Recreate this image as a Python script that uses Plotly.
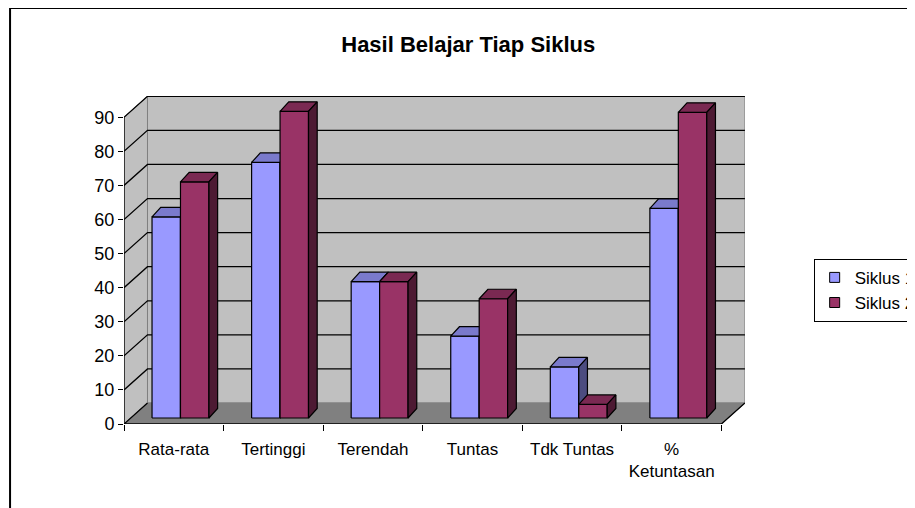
import plotly.graph_objects as go

# ---- data ----
categories = ["Rata-rata", "Tertinggi", "Terendah", "Tuntas", "Tdk Tuntas", "%<br>Ketuntasan"]
siklus1 = [59, 75, 40, 24, 15, 61.5]
siklus2 = [69.3, 90, 40, 35, 4, 89.7]
series_names = ["Siklus 1", "Siklus 2"]
y_ticks = [0, 10, 20, 30, 40, 50, 60, 70, 80, 90]
title_text = "Hasil Belajar Tiap Siklus"

# ---- styling / geometry (page body margin of 8px compensated) ----
OFF = 8
FONT = "Liberation Sans, Arial, sans-serif"
W, H = 915 - OFF, 508 - OFF
ML = 124 - OFF
MT = 96 - OFF
MR = W - (745.3 - OFF)
MB = H - (424.3 - OFF)
PW = W - ML - MR
PH = H - MT - MB
CAT_PX = (721.7 - 124) / 6.0
VAL_PX = (424.3 - 117.3) / 90.0
XMAX = PW / CAT_PX
YMAX = PH / VAL_PX
YTOP = y_ticks[-1]
NC = len(categories)

DX = 23.5 / CAT_PX   # wall depth
DY = 21.0 / VAL_PX
OX = 6.7 / CAT_PX    # bar front plane offset
OY = 6.0 / VAL_PX
BDX = 8.7 / CAT_PX   # bar depth
BDY = 9.5 / VAL_PX
BW = 1 / 3.5          # gap width 150%
HG = 0.75 / 3.5

front_cols = ["#9999FF", "#993366"]
top_cols = ["#7A7ACC", "#7A2952"]
side_cols = ["#4C4C80", "#4D1A33"]


def add_poly(xs, ys, pts):
    for px, py in pts + [pts[0]]:
        xs.append(px)
        ys.append(py)
    xs.append(None)
    ys.append(None)


fig = go.Figure()

# walls and floor
wx, wy = [], []
add_poly(wx, wy, [(DX, DY), (NC + DX, DY), (NC + DX, YTOP + DY), (DX, YTOP + DY)])
add_poly(wx, wy, [(0, 0), (DX, DY), (DX, YTOP + DY), (0, YTOP)])
fig.add_trace(go.Scatter(x=wx, y=wy, mode="lines", fill="toself", fillcolor="#C0C0C0",
                         line=dict(color="#808080", width=1), showlegend=False, hoverinfo="skip"))
fx, fy = [], []
add_poly(fx, fy, [(0, 0), (NC, 0), (NC + DX, DY), (DX, DY)])
fig.add_trace(go.Scatter(x=fx, y=fy, mode="lines", fill="toself", fillcolor="#808080",
                         line=dict(color="#808080", width=1), showlegend=False, hoverinfo="skip"))

# gridlines (side wall diagonals + back wall)
gx, gy = [], []
for v in y_ticks[1:]:
    gx += [0, DX, NC + DX, None]
    gy += [v, v + DY, v + DY, None]
gx += [0, DX, None]
gy += [0, DY, None]
fig.add_trace(go.Scatter(x=gx, y=gy, mode="lines", line=dict(color="black", width=1.3),
                         showlegend=False, hoverinfo="skip"))

# bars
series = [siklus1, siklus2]
for s, vals in enumerate(series):
    frx, fry, tpx, tpy, sdx, sdy = [], [], [], [], [], []
    for i, v in enumerate(vals):
        x0 = i + HG + s * BW + OX
        x1 = x0 + BW
        y0 = OY
        y1 = v + OY
        add_poly(frx, fry, [(x0, y0), (x1, y0), (x1, y1), (x0, y1)])
        add_poly(tpx, tpy, [(x0, y1), (x1, y1), (x1 + BDX, y1 + BDY), (x0 + BDX, y1 + BDY)])
        add_poly(sdx, sdy, [(x1, y0), (x1 + BDX, y0 + BDY), (x1 + BDX, y1 + BDY), (x1, y1)])
    for xs, ys, col in [(frx, fry, front_cols[s]), (tpx, tpy, top_cols[s]), (sdx, sdy, side_cols[s])]:
        fig.add_trace(go.Scatter(x=xs, y=ys, mode="lines", fill="toself", fillcolor=col,
                                 line=dict(color="black", width=1.2), showlegend=False,
                                 hoverinfo="skip"))

# front axis lines
fig.add_trace(go.Scatter(x=[0, 0, None, 0, NC, NC + DX], y=[YTOP, 0, None, 0, 0, DY], mode="lines",
                         line=dict(color="black", width=1.3), showlegend=False, hoverinfo="skip"))

# legend entries
for s, name in enumerate(series_names):
    fig.add_trace(go.Scatter(x=[None], y=[None], mode="markers", name=name,
                             marker=dict(symbol="square", size=10, color=front_cols[s],
                                         line=dict(color="black", width=1))))

fig.update_layout(
    width=W, height=H,
    margin=dict(l=ML, r=MR, t=MT, b=MB, autoexpand=False),
    paper_bgcolor="white", plot_bgcolor="white",
    font=dict(family=FONT, size=17, color="black"),
    title=dict(text="<b>" + title_text + "</b>", font=dict(family=FONT, size=22, color="black"),
               x=(468.4 - 124) / PW, xanchor="center", xref="paper",
               y=1 - (44 - OFF) / H, yanchor="middle", yref="container"),
    xaxis=dict(range=[0, XMAX], showgrid=False, zeroline=False, showline=False,
               tickvals=[i + 0.5 for i in range(NC)], ticktext=categories, ticks="",
               ticklabelstandoff=13,
               minor=dict(tickvals=list(range(NC + 1)), ticks="outside", ticklen=6,
                          tickcolor="black", tickwidth=1.3),
               tickfont=dict(size=17), automargin=False, fixedrange=True),
    yaxis=dict(range=[0, YMAX], showgrid=False, zeroline=False, showline=False,
               tickvals=y_ticks, ticks="outside", ticklen=5, tickcolor="black", tickwidth=1.3,
               tickfont=dict(size=18), automargin=False, fixedrange=True),
    legend=dict(x=(814 - 124) / PW, xanchor="left", xref="paper",
                y=(424.3 - 259) / PH, yanchor="top", yref="paper",
                bordercolor="black", borderwidth=1, bgcolor="white",
                font=dict(size=17), itemwidth=30, tracegroupgap=0),
    shapes=[dict(type="rect", xref="paper", yref="paper",
                 x0=(10 - 124) / PW, x1=2.0,
                 y0=-1.0, y1=(424.3 - 8) / PH,
                 line=dict(color="black", width=2), fillcolor="rgba(0,0,0,0)", layer="below")],
    showlegend=True,
)

fig.write_html("out.html")
